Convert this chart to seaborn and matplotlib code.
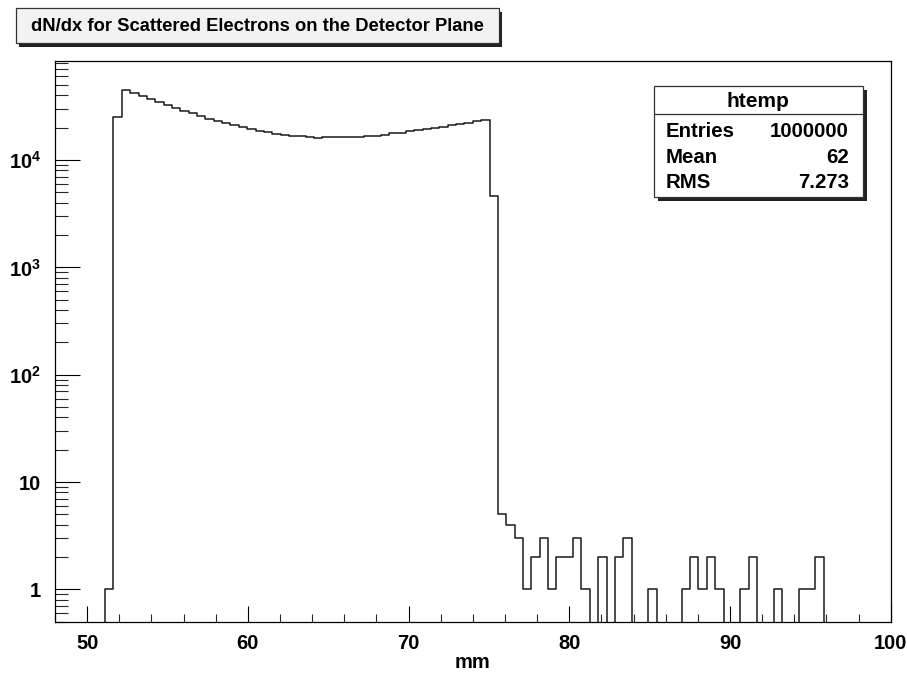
import numpy as np
import pandas as pd
import matplotlib
matplotlib.use("Agg")
import matplotlib.pyplot as plt
import seaborn as sns
from matplotlib.patches import Rectangle
from matplotlib.lines import Line2D
from matplotlib.ticker import FixedLocator, FixedFormatter, MultipleLocator, LogLocator, NullFormatter

# ---------------- data ----------------
x_range = (48.0, 100.0)
n_bins = 100
counts = [
    0, 0, 0, 0, 0, 0, 1, 25300, 44900, 42400,
    39500, 36800, 34500, 32550, 30500, 28800, 27200, 25700, 24300, 23100,
    22100, 21200, 20200, 19300, 18600, 18100, 17600, 17100, 16850, 16620,
    16500, 16030, 16270, 16270, 16270, 16270, 16500, 16620, 16850, 17100,
    17720, 17970, 18600, 18900, 19450, 20010, 20450, 21040, 21650, 22280,
    22930, 23600, 4620, 5, 4, 3, 1, 2, 3, 1,
    2, 2, 3, 1, 0, 2, 0, 2, 3, 0,
    0, 1, 0, 0, 0, 1, 2, 1, 2, 1,
    0, 0, 1, 2, 0, 0, 1, 0, 0, 1,
    1, 2, 0, 0, 0, 0, 0, 0, 0, 0,
]
x_ticks = [50, 60, 70, 80, 90, 100]
y_ticks = [1, 10, 100, 1000, 10000]
y_tick_labels = ["1", "10", "$10^{2}$", "$10^{3}$", "$10^{4}$"]
y_limits = (0.5, 84200)
title_text = "dN/dx for Scattered Electrons on the Detector Plane"
x_label = "mm"
stats_name = "htemp"
stats_labels = ["Entries", "Mean", "RMS"]
stats_values = ["1000000", "62", "7.273"]

# ---------------- style ----------------
sns.set_theme(style="white")
plt.rcParams['font.family'] = ['Liberation Sans', 'DejaVu Sans']
plt.rcParams['font.weight'] = 'bold'
plt.rcParams['mathtext.fontset'] = 'custom'
plt.rcParams['mathtext.rm'] = 'Liberation Sans:bold'
plt.rcParams['mathtext.it'] = 'Liberation Sans:bold'
plt.rcParams['mathtext.bf'] = 'Liberation Sans:bold'
plt.rcParams['axes.edgecolor'] = 'black'
plt.rcParams['axes.linewidth'] = 0.9

W, H = 907, 678
fig = plt.figure(figsize=(W / 100, H / 100), dpi=100)
fig.patch.set_facecolor('white')

def fx(x):
    return x / W

def fy(y):
    return 1 - y / H

ax_l, ax_r, ax_t, ax_b = 55, 890.7, 60.7, 621.7
ax = fig.add_axes([fx(ax_l), fy(ax_b), (ax_r - ax_l) / W, (ax_b - ax_t) / H])

edges = np.linspace(x_range[0], x_range[1], n_bins + 1)
centers = (edges[:-1] + edges[1:]) / 2
df = pd.DataFrame({"x": centers, "w": counts})
sns.histplot(data=df, x="x", weights="w", bins=edges.tolist(), element="step", fill=False,
             color="#1a1a1a", linewidth=1.1, ax=ax)
ax.set_yscale('log')
ax.set_xlim(*x_range)
ax.set_ylim(*y_limits)
ax.set_xlabel('')
ax.set_ylabel('')

ax.xaxis.set_major_locator(FixedLocator(x_ticks))
ax.xaxis.set_minor_locator(MultipleLocator(2))
ax.yaxis.set_major_locator(FixedLocator(y_ticks))
ax.yaxis.set_major_formatter(FixedFormatter(y_tick_labels))
ax.yaxis.set_minor_locator(LogLocator(base=10, subs=np.arange(2, 10), numticks=50))
ax.yaxis.set_minor_formatter(NullFormatter())

ax.tick_params(axis='x', which='major', direction='in', length=11.5, width=0.8,
               bottom=True, top=False, labelsize=14.5, pad=9, colors='black')
ax.tick_params(axis='x', which='minor', direction='in', length=5.8, width=0.8,
               bottom=True, top=False)
ax.tick_params(axis='y', which='major', direction='in', length=18, width=0.8,
               left=True, right=False, labelsize=14.5, pad=10, colors='black')
ax.tick_params(axis='y', which='minor', direction='in', length=9.1, width=0.8,
               left=True, right=False)
for lab in ax.get_xticklabels() + ax.get_yticklabels():
    lab.set_fontweight('bold')
for s in ax.spines.values():
    s.set_visible(True)
    s.set_color('black')
    s.set_linewidth(0.9)

# x label
fig.text(fx(472), fy(662), x_label, ha='center', va='center', fontsize=14.5,
         fontweight='bold', color='black')

# ---------------- title box ----------------
tb_x0, tb_y0, tb_x1, tb_y1 = 16, 8.3, 499, 43.3
sh = 3.3
fig.add_artist(Rectangle((fx(tb_x0 + sh), fy(tb_y1 + sh)), (tb_x1 - tb_x0) / W, (tb_y1 - tb_y0) / H,
                         transform=fig.transFigure, facecolor='#222222', edgecolor='none', zorder=5))
fig.add_artist(Rectangle((fx(tb_x0), fy(tb_y1)), (tb_x1 - tb_x0) / W, (tb_y1 - tb_y0) / H,
                         transform=fig.transFigure, facecolor='#f2f2f2', edgecolor='#333333',
                         linewidth=0.9, zorder=6))
fig.text(fx((tb_x0 + tb_x1) / 2), fy((tb_y0 + tb_y1) / 2 + 0.5), title_text, ha='center', va='center',
         fontsize=13.2, fontweight='bold', color='black', zorder=7)

# ---------------- stats box ----------------
sb_x0, sb_y0, sb_x1, sb_y1 = 654, 85.7, 862.7, 197.3
sh2 = 4
fig.add_artist(Rectangle((fx(sb_x0 + sh2), fy(sb_y1 + sh2)), (sb_x1 - sb_x0) / W, (sb_y1 - sb_y0) / H,
                         transform=fig.transFigure, facecolor='#222222', edgecolor='none', zorder=5))
fig.add_artist(Rectangle((fx(sb_x0), fy(sb_y1)), (sb_x1 - sb_x0) / W, (sb_y1 - sb_y0) / H,
                         transform=fig.transFigure, facecolor='white', edgecolor='#333333',
                         linewidth=0.9, zorder=6))
fig.add_artist(Line2D([fx(sb_x0), fx(sb_x1)], [fy(114), fy(114)], transform=fig.transFigure,
                      color='#333333', linewidth=0.9, zorder=7))
fig.text(fx((sb_x0 + sb_x1) / 2), fy(101.7), stats_name, ha='center', va='center',
         fontsize=15, fontweight='bold', color='black', zorder=7)
row_y = [131.7, 157.3, 182.3]
for lab, val, yy in zip(stats_labels, stats_values, row_y):
    fig.text(fx(666), fy(yy), lab, ha='left', va='center', fontsize=14.7,
             fontweight='bold', color='black', zorder=7)
    fig.text(fx(849), fy(yy), val, ha='right', va='center', fontsize=14.7,
             fontweight='bold', color='black', zorder=7)

fig.savefig("out.png", dpi=100)
